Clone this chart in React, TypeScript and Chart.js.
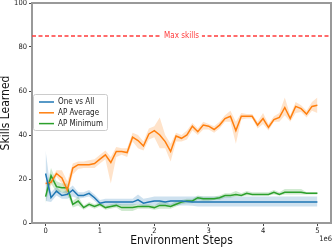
import React, { useEffect, useRef } from "react";
import { Chart, registerables } from "chart.js";

Chart.register(...registerables);

const steps = [0,0.1,0.2,0.3,0.4,0.5,0.6,0.7,0.8,0.9,1.0,1.1,1.2,1.3,1.4,1.5,1.6,1.7,1.8,1.9,2.0,2.1,2.2,2.3,2.4,2.5,2.6,2.7,2.8,2.9,3.0,3.1,3.2,3.3,3.4,3.5,3.6,3.7,3.8,3.9,4.0,4.1,4.2,4.3,4.4,4.5,4.6,4.7,4.8,4.9,5.0];

const oneVsAll = [22.5,11.5,14.5,12.5,13,15,12.5,12.5,13.5,11.5,9,9.5,9.5,9.5,9.5,9.5,9.5,10.5,9,9.5,10,10,9.5,10,10,10,9.8,9.6,9.5,9.5,9.5,9.5,9.5,9.5,9.5,9.5,9.5,9.5,9.5,9.5,9.5,9.5,9.5,9.5,9.5,9.5,9.5,9.5,9.5,9.5,9.5];
const oneVsAllLow = [10,9.5,12.5,11,11,12,11,11.5,12,10,8,8,8,8,8,8,8,8.5,7.5,8,8,8,8,8,8,8,8,7.8,7.5,7.5,7.5,7.5,7.5,7.5,7.5,7.5,7.5,7.5,7.5,7.5,7.5,7.5,7.5,7.5,7.5,7.5,7.5,7.5,7.5,7.5,7.5];
const oneVsAllHigh = [33,14,16.5,14,15,17,14,14,15,13,10.5,11,11,11,11,11,11,13,11,11.5,12,12,12,12,12,12,12,12,12,12,12,12,12,12,12,12,12,12,12,12,12,12,12,12,12,12,12,12,12,12,12];

const apAverage = [18,18.5,22.5,20.5,15,25,26.5,26.5,26.5,27,29,31,27.5,32.5,32.5,32,39,37.5,35,40.5,42,40,37,32.5,39.5,38.5,40,44,41.5,44.5,44,42.5,44.5,47.5,48.5,42,48.5,48.5,48.5,44.5,47.5,43.5,47,48,52.5,47.5,53,52,49.5,53,53.5];
const apAverageLow = [17,17,21,18,12,22,24.5,25,25,25,27,29,18,30,31,30,37,34,33,38,39,34,34,28,37,37,38,42,40,42.5,42.5,41,43,46,46,36,47,47.5,47.5,43,45,42,46,46,49,46,50,50.5,48,51,50];
const apAverageHigh = [19,20,24,24,19,27,28,28,28.5,29,31,33,30,34.5,34,34,41,40,37,43,44,48,40,36,41,40,42,45.5,43,46,45,44,46,49,51,46,50,49.5,49.5,46,50,45,48.5,50,57,49,55,53.5,51,55,57];

const apMinimum = [12,21.5,16.5,16,16,8.5,10,7,8.5,7.5,8.5,7,7.5,8,7,7,7,7.5,7.5,7.5,7,8,8,7.5,8.5,9.5,10,10,11.5,11,11,11,11.5,12.5,12.5,13,12.5,13.5,13,13,13,13,14,13,14,14,14,14,13.5,13.5,13.5];
const apMinimumLow = [9,18,14,14,13,7,8,6,7.5,6.5,7.5,6,6.5,7,5.5,5.5,5.5,6.5,6.5,6.5,6,6.5,6.5,6.5,7.5,8.5,9,9,10.5,10,10,10.5,10.5,11.5,11.5,12,12,12.5,12.5,12.5,12.5,12.5,13,12.5,13,13,13,13,13,13,13];
const apMinimumHigh = [15,25,19,18,18,10,12,8,9.5,8.5,9.5,8,8.5,9,8.5,8.5,8.5,8.5,8.5,8.5,8,9.5,9.5,8.5,10,10.5,11,11,12.5,12,12,12,12.5,13.5,13.5,14.5,13.5,14.5,14,14,14,14,15,14,15.5,15.5,15.5,15.5,14,14,14];

const maxSkills = 85;
const xRange = [-0.25, 5.25];
const xTicks = [0, 1, 2, 3, 4, 5];
const yTicks = [0, 20, 40, 60, 80, 100];

const seriesNames = ["One vs All", "AP Average", "AP Minimum"];
const seriesColors = ["#1f77b4", "#ff7f0e", "#2ca02c"];
const bandColors = ["rgba(31,119,180,0.22)", "rgba(255,127,14,0.22)", "rgba(44,160,44,0.22)"];

const FONT = "'DejaVu Sans Condensed', 'DejaVu Sans', sans-serif";

const pts = (ys: number[]) => ys.map((y, i) => ({ x: steps[i], y }));

const overlayPlugin = {
  id: "overlay",
  afterDraw(chart: any) {
    const { ctx, chartArea, scales } = chart;
    const { left, right, top, bottom } = chartArea;
    ctx.save();
    // top & right spines
    ctx.strokeStyle = "#999999";
    ctx.lineWidth = 2;
    ctx.beginPath();
    ctx.moveTo(left, top);
    ctx.lineTo(right, top);
    ctx.lineTo(right, bottom);
    ctx.stroke();

    // Max skills label
    const yMax = scales.y.getPixelForValue(maxSkills);
    const cx = (left + right) / 2;
    ctx.font = `8px ${FONT}`;
    const label = "Max skills";
    const w = ctx.measureText(label).width;
    ctx.fillStyle = "#ffffff";
    ctx.fillRect(cx - w / 2 - 3, yMax - 5, w + 6, 10);
    ctx.fillStyle = "#ff3b3b";
    ctx.textAlign = "center";
    ctx.textBaseline = "middle";
    ctx.fillText(label, cx, yMax);

    // 1e6 offset text
    ctx.fillStyle = "#222222";
    ctx.font = `7.5px ${FONT}`;
    ctx.textAlign = "right";
    ctx.textBaseline = "middle";
    ctx.fillText("1e6", 332, 239);

    // legend
    const bx = 33, by = 94, bw = 74, bh = 36;
    ctx.fillStyle = "rgba(255,255,255,0.85)";
    ctx.strokeStyle = "#cccccc";
    ctx.lineWidth = 1;
    ctx.beginPath();
    (ctx as any).roundRect(bx + 0.5, by + 0.5, bw, bh, 2);
    ctx.fill();
    ctx.stroke();
    ctx.font = `8px ${FONT}`;
    ctx.textAlign = "left";
    ctx.textBaseline = "middle";
    seriesNames.forEach((name, i) => {
      const ry = by + 8 + i * 10.8;
      ctx.strokeStyle = seriesColors[i];
      ctx.lineWidth = 1.5;
      ctx.beginPath();
      ctx.moveTo(39, ry);
      ctx.lineTo(54, ry);
      ctx.stroke();
      ctx.fillStyle = "#222222";
      ctx.fillText(name, 58, ry);
    });
    ctx.restore();
  },
};

export default function App() {
  const ref = useRef<HTMLCanvasElement | null>(null);
  useEffect(() => {
    document.body.style.margin = "0";
    const canvas = ref.current;
    if (!canvas) return;
    const means = [oneVsAll, apAverage, apMinimum];
    const lows = [oneVsAllLow, apAverageLow, apMinimumLow];
    const highs = [oneVsAllHigh, apAverageHigh, apMinimumHigh];
    const datasets: any[] = [];
    for (let i = 0; i < 3; i++) {
      datasets.push({
        label: seriesNames[i] + " low",
        data: pts(lows[i]),
        borderWidth: 0,
        pointRadius: 0,
        fill: false,
        order: 10,
      });
      datasets.push({
        label: seriesNames[i] + " high",
        data: pts(highs[i]),
        borderWidth: 0,
        pointRadius: 0,
        backgroundColor: bandColors[i],
        fill: "-1",
        order: 10,
      });
    }
    means.forEach((m, i) => {
      datasets.push({
        label: seriesNames[i],
        data: pts(m),
        borderColor: seriesColors[i],
        borderWidth: 1.5,
        pointRadius: 0,
        fill: false,
        tension: 0,
        order: 1,
      });
    });
    datasets.push({
      label: "Max skills",
      data: [
        { x: xRange[0], y: maxSkills },
        { x: xRange[1], y: maxSkills },
      ],
      borderColor: "#ff3b3b",
      borderWidth: 1.5,
      borderDash: [4, 2.5],
      pointRadius: 0,
      fill: false,
      order: 0,
    });

    const chart = new Chart(canvas, {
      type: "line",
      data: { datasets },
      options: {
        animation: false,
        responsive: false,
        devicePixelRatio: 1,
        layout: { padding: { top: 3, right: 1, left: 0, bottom: 0 } },
        plugins: {
          legend: { display: false },
          tooltip: { enabled: false },
          filler: { drawTime: "beforeDatasetsDraw" },
        } as any,
        scales: {
          x: {
            type: "linear",
            min: xRange[0],
            max: xRange[1],
            afterBuildTicks: (s: any) => {
              s.ticks = xTicks.map((v) => ({ value: v }));
            },
            afterFit: (s: any) => {
              s.height = 26;
              s.paddingLeft = 0;
              s.paddingRight = 0;
            },
            grid: { drawOnChartArea: false, drawTicks: true, tickLength: 3, tickColor: "#444444" },
            border: { color: "#999999", width: 2 },
            ticks: {
              color: "#222222",
              font: { family: FONT, size: 7.5 },
              padding: 1,
              maxRotation: 0,
              callback: (v: any) => String(v),
            },
            title: {
              display: true,
              text: "Environment Steps",
              color: "#111111",
              font: { family: FONT, size: 12, lineHeight: 1 },
              padding: { top: 0, bottom: 2 },
            },
          },
          y: {
            type: "linear",
            min: 0,
            max: 100,
            afterBuildTicks: (s: any) => {
              s.ticks = yTicks.map((v) => ({ value: v }));
            },
            afterFit: (s: any) => {
              s.width = 32;
              s.paddingTop = 0;
              s.paddingBottom = 0;
            },
            grid: { drawOnChartArea: false, drawTicks: true, tickLength: 3, tickColor: "#444444" },
            border: { color: "#999999", width: 2 },
            ticks: {
              color: "#222222",
              font: { family: FONT, size: 7.5 },
              padding: 2,
              callback: (v: any) => String(v),
            },
            title: {
              display: true,
              text: "Skills Learned",
              color: "#111111",
              font: { family: FONT, size: 12, lineHeight: 1 },
              padding: { top: 0, bottom: 0 },
            },
          },
        },
      },
      plugins: [overlayPlugin],
    });
    return () => chart.destroy();
  }, []);

  return (
    <div style={{ position: "absolute", left: 0, top: 0, width: 332, height: 249, background: "#fff" }}>
      <canvas ref={ref} width={332} height={249} style={{ display: "block", width: 332, height: 249 }} />
    </div>
  );
}
